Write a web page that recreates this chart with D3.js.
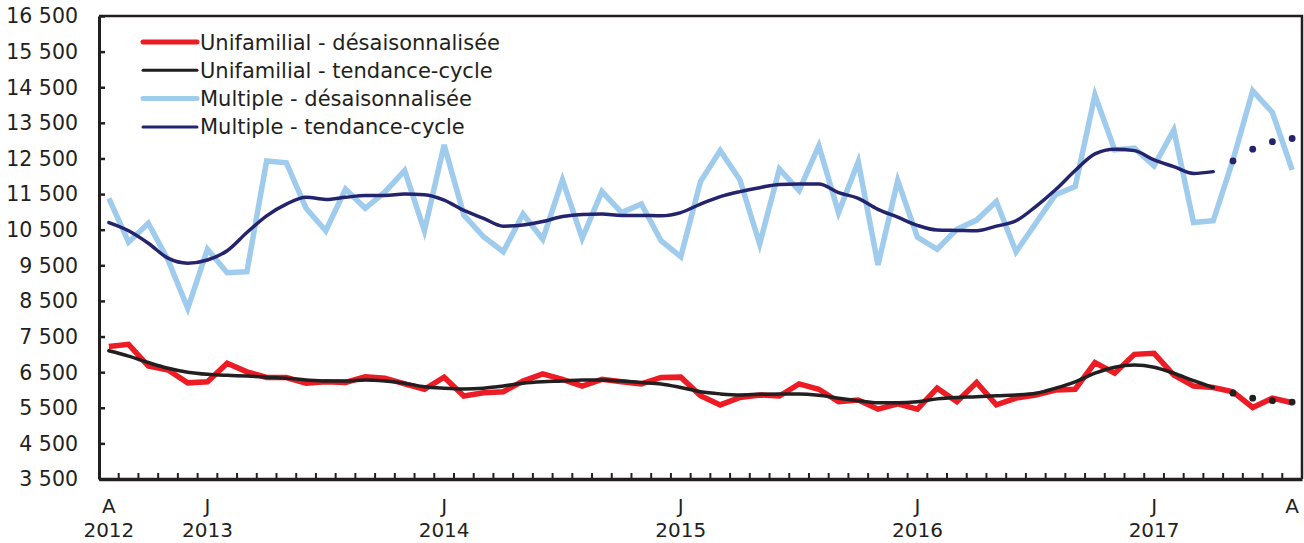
<!DOCTYPE html>
<html>
<head>
<meta charset="utf-8">
<script src="https://cdn.jsdelivr.net/npm/d3@7"></script>
<style>
  body { margin: 0; background: #fff; }
  svg text { font-family: "DejaVu Sans", Verdana, sans-serif; fill: #231f20; }
</style>
</head>
<body>
<svg id="chart" width="1304" height="543"></svg>
<script>
// months Aug 2012 .. Aug 2017
var months = d3.range(61);
var monthLabels = {0: "A", 5: "J", 17: "J", 29: "J", 41: "J", 53: "J", 60: "A"};
var yearLabels = {0: "2012", 5: "2013", 17: "2014", 29: "2015", 41: "2016", 53: "2017"};
var yTicks = d3.range(3500, 16501, 1000);

var multDes = [11380,10150,10680,9650,8290,9950,9290,9320,12430,12380,
  11100,10470,11640,11100,11560,12160,10470,12880,10910,10300,
  9880,10940,10230,11900,10260,11570,10980,11220,10190,9740,
  11850,12720,11900,10100,12200,11600,12860,10980,12410,9510,
  11880,10290,9950,10510,10770,11290,9880,10680,11480,11710,
  14280,12740,12790,12290,13300,10700,10750,12460,14400,13790,12180];
var multTrend = [10700,10470,10120,9700,9560,9650,9910,10420,10890,11220,
  11410,11350,11410,11460,11460,11500,11480,11330,11040,10820,
  10600,10630,10730,10870,10930,10940,10900,10900,10890,10980,
  11220,11430,11570,11680,11770,11780,11780,11540,11380,11070,
  10850,10620,10490,10480,10470,10600,10750,11150,11620,12160,
  12630,12760,12720,12460,12270,12080,12130,12430,12760,12970,13060];
var uniDes = [7220,7280,6670,6560,6200,6230,6750,6510,6350,6350,
  6190,6230,6210,6370,6330,6170,6020,6360,5830,5920,
  5950,6250,6450,6300,6110,6300,6230,6170,6350,6360,
  5840,5580,5790,5860,5830,6170,6020,5670,5720,5460,
  5610,5460,6050,5670,6210,5580,5770,5860,6000,6020,
  6770,6470,7000,7030,6420,6110,6070,5950,5510,5770,5640];
var uniTrend = [7100,6950,6770,6610,6500,6440,6410,6390,6360,6330,
  6280,6250,6250,6280,6250,6190,6090,6050,6030,6050,
  6110,6190,6230,6250,6280,6280,6250,6210,6170,6070,
  5950,5890,5860,5880,5890,5890,5850,5770,5700,5640,
  5640,5670,5750,5790,5810,5840,5860,5910,6050,6230,
  6470,6640,6700,6640,6470,6260,6070,5910,5770,5700,5660];
// trend-cycle estimates from this index on are shown as dots
var trendEnd = 57;

var series = [
  {name: "Multiple - désaisonnalisée", values: multDes, color: "#9fcbec", width: 5.5, trend: false},
  {name: "Multiple - tendance-cycle", values: multTrend, color: "#24246e", width: 3.5, trend: true},
  {name: "Unifamilial - désaisonnalisée", values: uniDes, color: "#ed1c24", width: 5.5, trend: false},
  {name: "Unifamilial - tendance-cycle", values: uniTrend, color: "#231f20", width: 3.5, trend: true}
];
var legendOrder = [2, 3, 0, 1];

var svg = d3.select("#chart");
var plotLeft = 99, plotRight = 1302, plotTop = 16, plotBottom = 479;

var x = d3.scaleBand().domain(months).range([plotLeft, plotRight]);
var cx = function(i) { return x(i) + x.bandwidth() / 2; };
var y = d3.scaleLinear().domain([3500, 16500]).range([plotBottom, plotTop]);

// frame top/right
svg.append("path")
  .attr("d", "M" + plotLeft + "," + plotTop + "H" + plotRight + "V" + plotBottom)
  .attr("fill", "none").attr("stroke", "#231f20").attr("stroke-width", 2.5);

// y axis
var yAxis = svg.append("g").attr("transform", "translate(" + plotLeft + ",0)")
  .call(d3.axisRight(y).tickValues(yTicks).tickSize(6).tickFormat("").tickSizeOuter(0));
yAxis.select(".domain").attr("stroke", "#231f20").attr("stroke-width", 3);
yAxis.selectAll(".tick line").attr("stroke", "#231f20").attr("stroke-width", 2.5);
svg.append("g").selectAll("text").data(yTicks).join("text")
  .attr("x", 78).attr("y", d => y(d)).attr("dy", "0.36em")
  .attr("text-anchor", "end").style("font-size", "20.5px")
  .text(d => d3.format(",")(d).replace(",", " "));

// x axis, ticks between months
var xAxis = svg.append("g").attr("transform", "translate(0," + plotBottom + ")")
  .call(d3.axisTop(x).tickValues(months.slice(1)).tickSize(6).tickFormat("").tickSizeOuter(0));
xAxis.selectAll(".tick").attr("transform", d => "translate(" + x(d) + ",0)");
xAxis.select(".domain").attr("stroke", "#231f20").attr("stroke-width", 3.5);
xAxis.selectAll(".tick line").attr("stroke", "#231f20").attr("stroke-width", 2);

var labelled = months.filter(i => monthLabels[i]);
svg.append("g").selectAll("text.m").data(labelled).join("text")
  .attr("x", d => cx(d)).attr("y", 513).attr("text-anchor", "middle")
  .style("font-size", "20px").text(d => monthLabels[d]);
svg.append("g").selectAll("text.yr").data(labelled.filter(i => yearLabels[i])).join("text")
  .attr("x", d => cx(d)).attr("y", 537).attr("text-anchor", "middle")
  .style("font-size", "20px").text(d => yearLabels[d]);

// lines
var line = d3.line().x(d => cx(d[0])).y(d => y(d[1]));
var smooth = d3.line().x(d => cx(d[0])).y(d => y(d[1])).curve(d3.curveMonotoneX);

series.forEach(function(s) {
  var pts = s.values.map((v, i) => [i, v]);
  if (s.trend) {
    svg.append("path").datum(pts.slice(0, trendEnd))
      .attr("d", smooth).attr("fill", "none")
      .attr("stroke", s.color).attr("stroke-width", s.width)
      .attr("stroke-linejoin", "round").attr("stroke-linecap", "round");
    svg.append("g").selectAll("circle").data(pts.slice(trendEnd)).join("circle")
      .attr("cx", d => cx(d[0])).attr("cy", d => y(d[1])).attr("r", 3.4)
      .attr("fill", s.color);
  } else {
    svg.append("path").datum(pts)
      .attr("d", line).attr("fill", "none")
      .attr("stroke", s.color).attr("stroke-width", s.width)
      .attr("stroke-linejoin", "miter");
  }
});

// legend
var leg = svg.append("g").selectAll("g").data(legendOrder).join("g")
  .attr("transform", (d, k) => "translate(143," + (42 + k * 28.3) + ")");
leg.append("line").attr("x1", 0).attr("x2", 54)
  .attr("stroke", d => series[d].color)
  .attr("stroke-width", d => series[d].width - 0.5)
  .attr("stroke-linecap", "round");
leg.append("text").attr("x", 57).attr("dy", "0.36em")
  .style("font-size", "21px").text(d => series[d].name);
</script>
</body>
</html>
